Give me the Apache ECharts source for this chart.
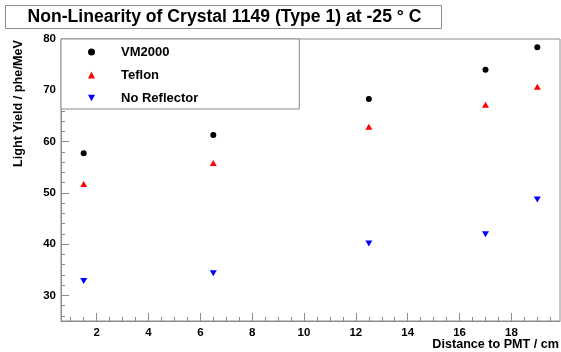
<!DOCTYPE html>
<html>
<head>
<meta charset="utf-8">
<script src="https://cdn.jsdelivr.net/npm/echarts@6/dist/echarts.min.js"></script>
<style>
html,body{margin:0;padding:0;background:#fff;}
#c{width:561px;height:352px;}
</style>
</head>
<body>
<div id="c"></div>
<script>
const titleText = 'Non-Linearity of Crystal 1149 (Type 1) at -25 \u00b0 C';
const xTitle = 'Distance to PMT / cm';
const yTitle = 'Light Yield / phe/MeV';
const seriesNames = ['VM2000', 'Teflon', 'No Reflector'];
const distances = [1.5, 6.5, 12.5, 17, 19];
const vm2000 = [57.7, 61.3, 68.3, 74.0, 78.4];
const teflon = [51.7, 55.8, 62.9, 67.2, 70.7];
const noReflector = [32.8, 34.3, 40.1, 41.9, 48.7];
const xTicks = [2, 4, 6, 8, 10, 12, 14, 16, 18];
const xMinor = [1, 1.5, 2.5, 3, 3.5, 4.5, 5, 5.5, 6.5, 7, 7.5, 8.5, 9, 9.5, 10.5, 11, 11.5, 12.5, 13, 13.5, 14.5, 15, 15.5, 16.5, 17, 17.5, 18.5, 19, 19.5];
const yTicks = [30, 40, 50, 60, 70, 80];
const yMinor = [26, 28, 32, 34, 36, 38, 42, 44, 46, 48, 52, 54, 56, 58, 62, 64, 66, 68, 72, 74, 76, 78];

const FONT = 'Liberation Sans, Arial, Helvetica, sans-serif';
const GRAY = '#8c8c8c';
const chart = echarts.init(document.getElementById('c'), null, {renderer: 'canvas'});

function pairs(xs, ys) { return xs.map((x, i) => [x, ys[i]]); }

const xBase = {type: 'value', min: 0.625, max: 19.875, position: 'bottom', splitLine: {show: false}};
const yBase = {type: 'value', min: 25, max: 80, position: 'left', splitLine: {show: false}};

const option = {
  animation: false,
  backgroundColor: '#fff',
  grid: {left: 61, top: 39, right: 1, bottom: 31, show: true, borderColor: GRAY, borderWidth: 1, backgroundColor: 'transparent'},
  xAxis: [
    Object.assign({}, xBase, {
      axisLine: {show: true, lineStyle: {color: GRAY}},
      axisTick: {show: true, inside: true, length: 8, customValues: xTicks, lineStyle: {color: GRAY}},
      axisLabel: {show: true, customValues: xTicks, margin: 6, color: '#000', fontWeight: 'bold', fontSize: 11.5, fontFamily: FONT}
    }),
    Object.assign({}, xBase, {
      axisLine: {show: false},
      axisTick: {show: true, inside: true, length: 4, customValues: xMinor, lineStyle: {color: GRAY}},
      axisLabel: {show: false}
    })
  ],
  yAxis: [
    Object.assign({}, yBase, {
      axisLine: {show: true, lineStyle: {color: GRAY}},
      axisTick: {show: true, inside: true, length: 8, customValues: yTicks, lineStyle: {color: GRAY}},
      axisLabel: {show: true, customValues: yTicks, margin: 5, color: '#000', fontWeight: 'bold', fontSize: 11.5, fontFamily: FONT}
    }),
    Object.assign({}, yBase, {
      axisLine: {show: false},
      axisTick: {show: true, inside: true, length: 4, customValues: yMinor, lineStyle: {color: GRAY}},
      axisLabel: {show: false}
    })
  ],
  legend: {
    orient: 'vertical',
    left: 61, top: 39,
    padding: [6, 101, 4, 27],
    itemWidth: 7, itemHeight: 7, itemGap: 9,
    borderColor: GRAY, borderWidth: 1, backgroundColor: '#fff',
    textStyle: {color: '#000', fontWeight: 'bold', fontSize: 13, fontFamily: FONT, lineHeight: 14, padding: [0, 0, 0, 21]},
    data: seriesNames
  },
  series: [
    {name: seriesNames[0], type: 'scatter', symbol: 'circle', symbolSize: 6, itemStyle: {color: '#000', opacity: 1}, data: pairs(distances, vm2000)},
    {name: seriesNames[1], type: 'scatter', symbol: 'triangle', symbolSize: [7, 6], itemStyle: {color: '#ff0000', opacity: 1}, data: pairs(distances, teflon)},
    {name: seriesNames[2], type: 'scatter', symbol: 'path://M0,0 L10,0 L5,9 Z', symbolSize: [7, 6], itemStyle: {color: '#0000ff', opacity: 1}, data: pairs(distances, noReflector)}
  ],
  graphic: [
    {type: 'rect', shape: {x: 5.5, y: 5.5, width: 436, height: 23}, style: {fill: '#fff', stroke: GRAY, lineWidth: 1}, z: 10},
    {type: 'text', x: 224.5, y: 17.5, style: {text: titleText, fill: '#000', font: 'bold 17.6px ' + FONT, textAlign: 'center', textVerticalAlign: 'middle'}, z: 11},
    {type: 'text', x: 18, y: 40, rotation: Math.PI / 2, style: {text: yTitle, fill: '#000', font: 'bold 12.7px ' + FONT, textAlign: 'right', textVerticalAlign: 'middle'}, z: 11},
    {type: 'text', x: 559, y: 345, style: {text: xTitle, fill: '#000', font: 'bold 12.6px ' + FONT, textAlign: 'right', textVerticalAlign: 'middle'}, z: 11}
  ]
};
chart.setOption(option);
</script>
</body>
</html>
